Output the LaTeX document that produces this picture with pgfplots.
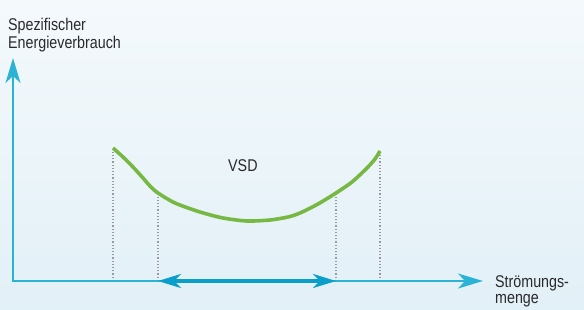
\documentclass[border=0pt]{standalone}
\usepackage{pgfplots}
\pgfplotsset{compat=1.18}
\usepackage{fontspec}
\setmainfont{Liberation Sans}[FakeStretch=0.84]
\usetikzlibrary{arrows.meta}
\definecolor{axc}{HTML}{2BB3D6}
\definecolor{arc}{HTML}{0A9FCB}
\definecolor{grn}{HTML}{77B843}
\definecolor{txt}{HTML}{2A2A2A}
\definecolor{bgtop}{HTML}{F4F9FC}
\definecolor{bgbot}{HTML}{E2F0F7}
\begin{document}
\begin{tikzpicture}[x=1pt,y=1pt]
\begin{axis}[
  width=584pt, height=309pt, scale only axis, hide axis,
  xmin=0, xmax=584, ymin=0, ymax=309, clip=false,
]
\path[top color=bgtop, bottom color=bgbot] (axis cs:0,0) rectangle (axis cs:584,309);
% dotted guides
\addplot[gray!80, dotted, line width=1.2pt] coordinates {(113,28) (113,161)};
\addplot[gray!80, dotted, line width=1.2pt] coordinates {(158,28) (158,116)};
\addplot[gray!80, dotted, line width=1.2pt] coordinates {(336,28) (336,116)};
\addplot[gray!80, dotted, line width=1.2pt] coordinates {(380,28) (380,158)};
% axes
\addplot[axc, line width=1.6pt, -{Stealth[length=25pt,width=15pt,inset=7pt]}] coordinates {(13,28) (483,28)};
\addplot[axc, line width=1.6pt, -{Stealth[length=25pt,width=15pt,inset=7pt]}] coordinates {(13,27.2) (13,251)};
% double arrow
\addplot[arc, line width=3.5pt, {Stealth[length=23pt,width=14pt,inset=7pt]}-{Stealth[length=23pt,width=14pt,inset=7pt]}] coordinates {(158,28) (336,28)};
% VSD curve
\addplot[grn, line width=3.6pt, smooth, tension=0.45] coordinates {
(113,161) (123,152) (133,142) (143,131) (150,123) (158,116) (175,106) (200,97)
(223,91) (247,88) (270,89) (288,92) (300,96) (318,105) (336,116) (352,127)
(367,141) (375,150) (380,158)};
% labels
\node[anchor=base west, txt, font=\fontsize{17}{18}\selectfont, inner sep=0pt] at (axis cs:8,279) {Spezifischer};
\node[anchor=base west, txt, font=\fontsize{17}{18}\selectfont, inner sep=0pt] at (axis cs:8,261) {Energieverbrauch};
\node[anchor=base west, txt, font=\fontsize{17}{18}\selectfont, inner sep=0pt] at (axis cs:228,138) {VSD};
\node[anchor=base west, txt, font=\fontsize{17}{18}\selectfont, inner sep=0pt] at (axis cs:495,22) {Strömungs-};
\node[anchor=base west, txt, font=\fontsize{17}{18}\selectfont, inner sep=0pt] at (axis cs:495,6) {menge};
\end{axis}
\pgfresetboundingbox
\path (current axis.south west) rectangle (current axis.north east);
\end{tikzpicture}
\end{document}
